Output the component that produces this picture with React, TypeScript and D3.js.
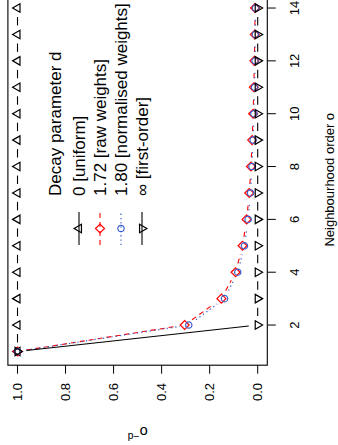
import React from 'react';
import * as d3 from 'd3';

const orders = [1, 2, 3, 4, 5, 6, 7, 8, 9, 10, 11, 12, 13, 14];
const uniformVals = [1, 1, 1, 1, 1, 1, 1, 1, 1, 1, 1, 1, 1, 1];
const rawVals = [1, 0.304, 0.151, 0.092, 0.063, 0.046, 0.035, 0.028, 0.023, 0.019, 0.016, 0.014, 0.012, 0.011];
const normVals = [1, 0.287, 0.138, 0.083, 0.055, 0.040, 0.030, 0.024, 0.019, 0.016, 0.013, 0.011, 0.010, 0.009];
const firstOrderVals = [1, 0, 0, 0, 0, 0, 0, 0, 0, 0, 0, 0, 0, 0];
const valueTicks = [0, 0.2, 0.4, 0.6, 0.8, 1.0];
const orderTicks = [2, 4, 6, 8, 10, 12, 14];
const legendTitle = 'Decay parameter d';
const legendLabels = ['0 [uniform]', '1.72 [raw weights]', '1.80 [normalised weights]', '\u221E [first-order]'];

const W = 445; // inner (unrotated) width
const FONT = 'Liberation Sans, Arial, Helvetica, sans-serif';
const FS = 13;
const LFS = 17;

type Shape = 'up' | 'down' | 'diamond' | 'circle';

const series = [
  { vals: uniformVals, color: '#000000', dash: undefined as string | undefined, shape: 'up' as Shape, lw: 1.1 },
  { vals: rawVals, color: '#FF0000', dash: '5,4', shape: 'diamond' as Shape, lw: 1.1 },
  { vals: normVals, color: '#3A5FCD', dash: '1.3,3', shape: 'circle' as Shape, lw: 1.2 },
  { vals: firstOrderVals, color: '#000000', dash: undefined as string | undefined, shape: 'down' as Shape, lw: 1.1 },
];

const base = 3.16;
function markerPath(shape: Shape): string {
  if (shape === 'circle') {
    const r = base;
    return `M${-r},0A${r},${r} 0 1,0 ${r},0A${r},${r} 0 1,0 ${-r},0Z`;
  }
  if (shape === 'diamond') {
    const r = base * Math.SQRT2;
    return `M0,${-r}L${r},0L0,${r}L${-r},0Z`;
  }
  const r = base * 1.5551;
  const xc = base * 1.3468;
  const yc = base * 0.7776;
  if (shape === 'up') return `M0,${-r}L${xc},${yc}L${-xc},${yc}Z`;
  return `M0,${r}L${xc},${-yc}L${-xc},${-yc}Z`;
}

const Marker = ({ x, y, shape, color }: { x: number; y: number; shape: Shape; color: string }) => (
  <path d={markerPath(shape)} transform={`translate(${x},${y})`} fill="none" stroke={color} strokeWidth={1.2} />
);

export default function App() {
  const x = d3.scaleLinear().domain([0.48, 14.52]).range([79.8, 450.7]);
  const y = d3.scaleLinear().domain([-0.04, 1.04]).range([267.3, 7.9]);
  const gap = 9;

  const gapped = (vals: number[]) => {
    const pts = orders.map((o, i) => [x(o), y(vals[i])] as [number, number]);
    return d3.pairs(pts).map(([a, b]) => {
      const dx = b[0] - a[0];
      const dy = b[1] - a[1];
      const L = Math.hypot(dx, dy);
      if (L <= 2 * gap) return null;
      const ux = dx / L;
      const uy = dy / L;
      return [a[0] + ux * gap, a[1] + uy * gap, b[0] - ux * gap, b[1] - uy * gap];
    }).filter(Boolean) as number[][];
  };

  const [x0, x1] = x.range();
  const [yb, yt] = y.range();
  const xMid = (x(0.48) + x(14.52)) / 2;
  const yMid = (yb + yt) / 2;

  const legLineX0 = 200;
  const legLineX1 = 233;
  const legTextX = 249;
  const legTitleY = 55.5;
  const legYs = [79, 100, 121, 142];

  return (
    <svg width={338} height={445} style={{ position: 'absolute', left: 0, top: 0, background: '#fff' }}>
      <rect x={0} y={0} width={338} height={445} fill="#fff" />
      <g transform={`translate(0,${W}) rotate(-90)`} fontFamily={FONT} fontSize={FS}>
        {/* box */}
        <rect x={x0} y={yt} width={x1 - x0} height={yb - yt} fill="none" stroke="#000" strokeWidth={1.1} />
        {/* value axis */}
        {valueTicks.map((v) => (
          <g key={'v' + v}>
            <line x1={x0} x2={x0 - 8.5} y1={y(v)} y2={y(v)} stroke="#000" strokeWidth={1} />
            <text x={62} y={y(v)} dy="0.35em" textAnchor="end">{d3.format('.1f')(v)}</text>
          </g>
        ))}
        {/* order axis */}
        {orderTicks.map((o) => (
          <g key={'o' + o}>
            <line x1={x(o)} x2={x(o)} y1={yb} y2={yb + 8.5} stroke="#000" strokeWidth={1} />
            <text x={x(o)} y={294} dy="0.35em" textAnchor="middle">{o}</text>
          </g>
        ))}
        <text x={xMid} y={329} dy="0.35em" textAnchor="middle">Neighbourhood order o</text>
        <text transform={`translate(18,${yMid}) rotate(-90)`} textAnchor="middle" fontSize={14.5}>
          o<tspan dy="-5.5" fontSize={10.5}>{'\u2212d'}</tspan>
        </text>
        {/* series */}
        {series.map((s, si) => (
          <g key={'s' + si}>
            {gapped(s.vals).map((seg, i) => (
              <line key={i} x1={seg[0]} y1={seg[1]} x2={seg[2]} y2={seg[3]} stroke={s.color} strokeWidth={s.lw} strokeDasharray={s.dash} />
            ))}
            {orders.map((o, i) => (
              <Marker key={i} x={x(o)} y={y(s.vals[i])} shape={s.shape} color={s.color} />
            ))}
          </g>
        ))}
        {/* legend */}
        <g fontSize={LFS}>
          <text x={legTextX} y={legTitleY} dy="0.35em">{legendTitle}</text>
          {legendLabels.map((lab, i) => {
            const s = series[i];
            const ly = legYs[i];
            return (
              <g key={'l' + i}>
                <line x1={legLineX0} x2={legLineX1} y1={ly} y2={ly} stroke={s.color} strokeWidth={s.lw} strokeDasharray={s.dash} />
                <Marker x={(legLineX0 + legLineX1) / 2} y={ly} shape={s.shape} color={s.color} />
                <text x={legTextX} y={ly} dy="0.35em">{lab}</text>
              </g>
            );
          })}
        </g>
      </g>
    </svg>
  );
}
